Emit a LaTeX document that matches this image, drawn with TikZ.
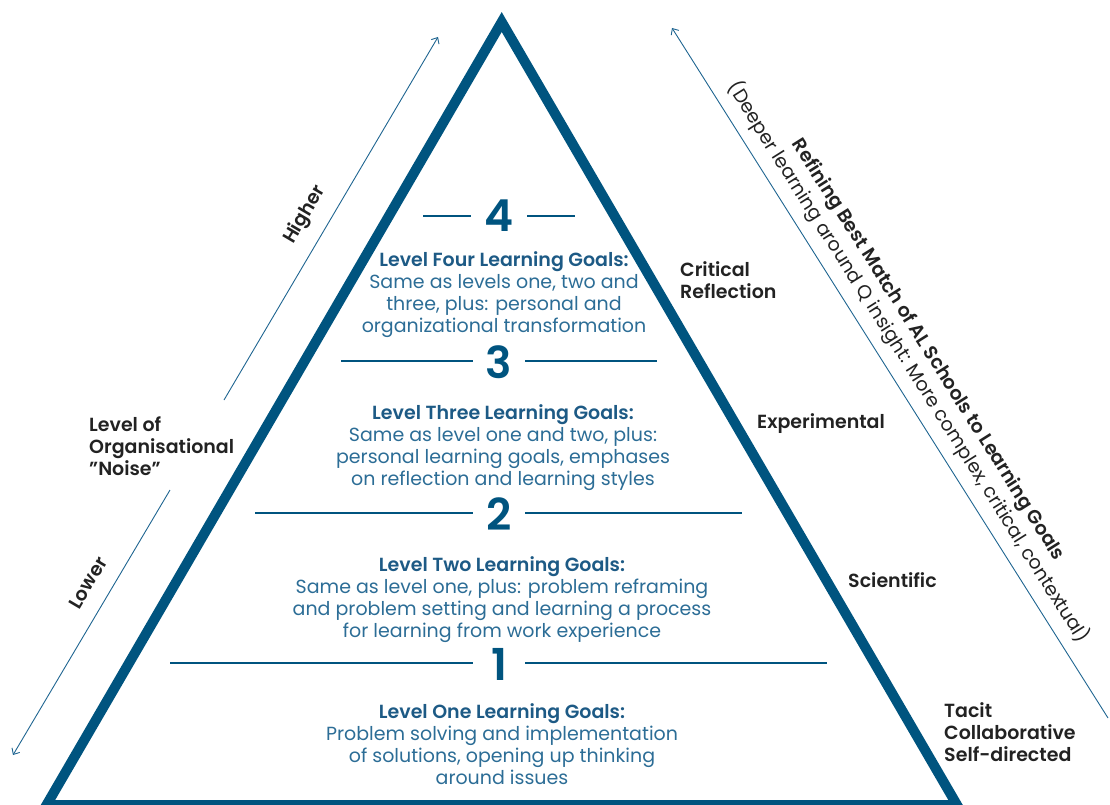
\documentclass[tikz,border=0pt]{standalone}
\usepackage{fontspec}
\setmainfont{Poppins}[BoldFont={Poppins SemiBold}]
\usetikzlibrary{arrows.meta}
\definecolor{tri}{HTML}{00547F}
\definecolor{ttl}{HTML}{1D5A85}
\definecolor{bdy}{HTML}{2C6D96}
\definecolor{lbl}{HTML}{222222}
\definecolor{arr}{HTML}{1F6591}
\tikzset{
  goal/.style={text=bdy, align=center, font=\fontsize{19}{22}\selectfont, inner sep=0pt},
  digit/.style={text=tri, font=\fontsize{44}{44}\selectfont\bfseries, inner sep=0pt},
  side/.style={text=lbl, font=\fontsize{19}{22}\selectfont\bfseries, align=left, anchor=west, inner sep=0pt},
  divider/.style={draw=tri, line width=1.2pt},
  noisearrow/.style={draw=arr, line width=0.9pt, -{Straight Barb[length=5pt,width=9pt]}},
  rottext/.style={text=lbl, font=\fontsize{19}{22}\selectfont\bfseries, inner sep=0pt},
}
\begin{document}
\begin{tikzpicture}[x=1pt,y=-1pt]
\useasboundingbox (0,0) rectangle (1110,805);
\clip (0,0) rectangle (1110,805);
% triangle
\draw[draw=tri, line width=10pt, line join=miter] (501.7,22) -- (957,805) -- (46.5,805) -- cycle;

% digits and dividers
\node[digit] (d4) at (499,216) {4};
\node[digit] (d3) at (499,362) {3};
\node[digit] (d2) at (499,514) {2};
\node[digit] (d1) at (499,664) {1};
\draw[divider] (423,216) -- (471,216);
\draw[divider] (527,216) -- (575,216);
\draw[divider] (341,361) -- (473,361);
\draw[divider] (525,361) -- (657,361);
\draw[divider] (255,513) -- (473,513);
\draw[divider] (525,513) -- (742,513);
\draw[divider] (170,663) -- (473,663);
\draw[divider] (525,663) -- (827,663);

% goal texts
\node[goal] (g4) at (504,295) {{\color{ttl}\bfseries Level Four Learning Goals:}\\Same as levels one, two and\\three, plus: personal and\\organizational transformation};
\node[goal] (g3) at (503,448) {{\color{ttl}\bfseries Level Three Learning Goals:}\\Same as level one and two, plus:\\personal learning goals, emphases\\on reflection and learning styles};
\node[goal] (g2) at (502,599.5) {{\color{ttl}\bfseries Level Two Learning Goals:}\\Same as level one, plus: problem reframing\\and problem setting and learning a process\\for learning from work experience};
\node[goal] (g1) at (502,744) {{\color{ttl}\bfseries Level One Learning Goals:}\\Problem solving and implementation\\of solutions, opening up thinking\\around issues};

% side labels
\node[side] (crit) at (680,280) {Critical\\Reflection};
\node[side] (expe) at (757,424) {Experimental};
\node[side] (scie) at (848,580) {Scientific};
\node[side] (taci) at (944,732) {Tacit\\Collaborative\\Self-directed};
\node[side] (noise) at (89,446) {Level of\\Organisational\\”Noise”};

% left arrows
\coordinate (hiS) at (224,400);
\coordinate (hiE) at (438,37);
\coordinate (loS) at (170,490);
\coordinate (loE) at (13,755);
\draw[noisearrow] (hiS) -- (hiE);
\draw[noisearrow] (loS) -- (loE);
\node[rottext, rotate=59.5] (higher) at (305,215) {Higher};
\node[rottext, rotate=59.5] (lower) at (88,583) {Lower};

% right arrow
\coordinate (rfS) at (1108,718);
\coordinate (rfE) at (672,28);
\draw[noisearrow] (rfS) -- (rfE);
\node[rottext, rotate=-57.75, align=center, font=\fontsize{19}{24}\selectfont] (refine) at (917.5,356.5)
  {{\bfseries Refining Best Match of AL Schools to Learning Goals}\\{\mdseries (Deeper learning around Q insight: More complex, critical, contextual)}};
\end{tikzpicture}
\end{document}
